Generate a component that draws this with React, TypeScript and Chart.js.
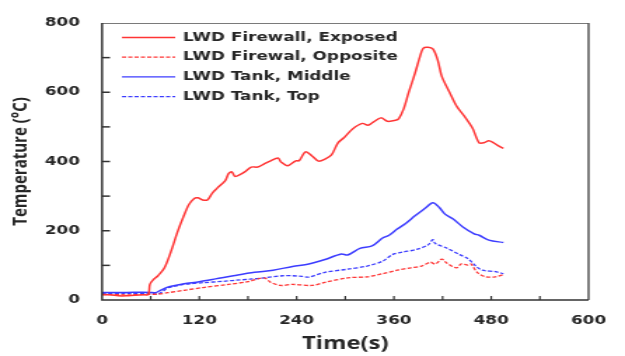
import React, { useEffect, useRef } from "react";
import { Chart, registerables } from "chart.js";

Chart.register(...registerables);

// ---- data ----
const seriesLabels = [
  "LWD Firewall, Exposed",
  "LWD Firewal, Opposite",
  "LWD Tank, Middle",
  "LWD Tank, Top",
];

const exposedTime = [0, 10, 20, 30, 40, 50, 57, 59, 63, 69, 77, 85, 93, 101, 107, 113, 118, 124, 130, 136, 142, 152, 156, 160, 164, 170, 176, 184, 192, 200, 208, 217, 221, 229, 239, 243, 251, 259, 267, 275, 283, 291, 299, 309, 321, 328, 334, 344, 352, 362, 366, 372, 378, 386, 392, 396, 402, 408, 414, 419, 429, 437, 449, 457, 465, 471, 477, 483, 489, 495];
const exposedTemp = [15, 15, 12, 12, 14, 15, 16, 45, 58, 70, 93, 140, 196, 244, 275, 292, 295, 289, 289, 309, 323, 345, 365, 370, 357, 362, 370, 384, 384, 393, 402, 410, 398, 388, 402, 402, 428, 416, 401, 407, 419, 454, 470, 494, 510, 505, 513, 526, 516, 519, 524, 552, 598, 655, 702, 727, 730, 725, 693, 646, 598, 561, 524, 496, 454, 454, 460, 454, 445, 438];

const oppositeTime = [0, 30, 60, 70, 81, 101, 125, 156, 180, 200, 208, 220, 235, 259, 275, 303, 327, 346, 366, 381, 394, 405, 411, 419, 425, 437, 443, 451, 455, 463, 473, 485, 495];
const oppositeTemp = [16, 15, 16, 17, 21, 28, 36, 45, 53, 64, 51, 42, 45, 42, 51, 64, 67, 76, 87, 93, 98, 109, 104, 118, 107, 93, 104, 101, 104, 79, 67, 67, 73];

const middleTime = [0, 30, 60, 66, 72, 81, 90, 101, 120, 140, 164, 188, 211, 235, 255, 275, 295, 303, 318, 333, 346, 354, 364, 374, 386, 398, 408, 416, 423, 433, 445, 459, 465, 477, 495];
const middleTemp = [22, 22, 22, 21, 28, 37, 42, 47, 53, 61, 71, 80, 86, 97, 104, 117, 133, 130, 149, 156, 179, 187, 205, 220, 243, 264, 281, 267, 248, 234, 211, 191, 187, 173, 166];

const topTime = [0, 30, 60, 64, 69, 75, 81, 90, 101, 125, 150, 164, 182, 200, 223, 235, 247, 255, 275, 303, 327, 346, 358, 370, 388, 402, 408, 411, 425, 441, 451, 461, 469, 485, 495];
const topTemp = [19, 19, 19, 18, 17, 25, 35, 40, 45, 50, 54, 57, 60, 64, 70, 70, 68, 66, 80, 89, 98, 112, 131, 138, 146, 159, 174, 163, 150, 131, 120, 98, 86, 82, 76];

const xMin = 0, xMax = 600, xStep = 60, xLabelEvery = 120;
const yMin = 0, yMax = 800, yStep = 100, yLabelEvery = 200;
const xTitle = "Time(s)";
const yTitle = "Temperature (°C)";

// ---- style ----
const W = 446; // internal width, stretched horizontally to 625
const H = 356;
const RED = "#ff3434";
const BLUE = "#3c3cff";
const TEXT = "#262626";

const pts = (t: number[], v: number[]) => t.map((x, i) => ({ x, y: v[i] }));

export default function App() {
  const ref = useRef<HTMLCanvasElement>(null);

  useEffect(() => {
    const canvas = ref.current;
    if (!canvas) return;

    const framePlugin = {
      id: "frame",
      afterDraw(chart: any) {
        const { ctx, chartArea, scales } = chart;
        const { left, top, right, bottom } = chartArea;
        const xs = scales.x, ys = scales.y;
        ctx.save();
        // top border
        ctx.strokeStyle = "#7a7a7a";
        ctx.lineWidth = 1;
        ctx.beginPath();
        ctx.moveTo(left, top + 0.5);
        ctx.lineTo(right, top + 0.5);
        ctx.stroke();
        // right border
        ctx.strokeStyle = "#555";
        ctx.lineWidth = 1.5;
        ctx.beginPath();
        ctx.moveTo(right, top);
        ctx.lineTo(right, bottom);
        ctx.stroke();
        // axes
        ctx.strokeStyle = "#333";
        ctx.lineWidth = 1.5;
        ctx.beginPath();
        ctx.moveTo(left, top);
        ctx.lineTo(left, bottom);
        ctx.lineTo(right, bottom);
        ctx.stroke();
        // inward tick marks
        ctx.lineWidth = 1.2;
        xs.ticks.forEach((t: any) => {
          if (t.value <= xMin || t.value >= xMax) return;
          const px = xs.getPixelForValue(t.value);
          ctx.beginPath();
          ctx.moveTo(px, bottom);
          ctx.lineTo(px, bottom - 4);
          ctx.stroke();
        });
        ctx.lineWidth = 1.5;
        ys.ticks.forEach((t: any) => {
          if (t.value <= yMin || t.value >= yMax) return;
          const py = ys.getPixelForValue(t.value);
          ctx.beginPath();
          ctx.moveTo(left, py);
          ctx.lineTo(left + 5.7, py);
          ctx.stroke();
        });
        // legend
        ctx.font = "bold 12px 'DejaVu Sans'";
        ctx.textBaseline = "middle";
        ctx.textAlign = "left";
        chart.data.datasets.forEach((ds: any, i: number) => {
          const yy = top + 14.5 + i * 19.7;
          ctx.strokeStyle = ds.borderColor;
          ctx.lineWidth = 1.3;
          ctx.setLineDash(ds.borderDash || []);
          ctx.beginPath();
          ctx.moveTo(left + 14.2, yy);
          ctx.lineTo(left + 52.2, yy);
          ctx.stroke();
          ctx.setLineDash([]);
          ctx.fillStyle = TEXT;
          ctx.fillText(ds.label, left + 57.8, yy);
        });
        ctx.restore();
      },
    };

    const chart = new Chart(canvas, {
      type: "line",
      data: {
        datasets: [
          { label: seriesLabels[0], data: pts(exposedTime, exposedTemp), borderColor: RED, borderWidth: 1.5, borderDash: [] },
          { label: seriesLabels[1], data: pts(oppositeTime, oppositeTemp), borderColor: RED, borderWidth: 1.3, borderDash: [3, 1.5] },
          { label: seriesLabels[2], data: pts(middleTime, middleTemp), borderColor: BLUE, borderWidth: 1.5, borderDash: [] },
          { label: seriesLabels[3], data: pts(topTime, topTemp), borderColor: BLUE, borderWidth: 1.3, borderDash: [3, 1.5] },
        ] as any,
      },
      options: {
        animation: false,
        responsive: false,
        devicePixelRatio: 1,
        layout: { padding: { left: 0, top: 15, right: 12.8, bottom: 0 } },
        elements: {
          point: { radius: 0 },
          line: { tension: 0.3, fill: false },
        },
        plugins: {
          legend: { display: false },
          tooltip: { enabled: false },
        },
        scales: {
          x: {
            type: "linear",
            min: xMin,
            max: xMax,
            grid: { display: false, drawTicks: false },
            border: { display: false },
            ticks: {
              stepSize: xStep,
              autoSkip: false,
              maxRotation: 0,
              padding: 13.5,
              color: TEXT,
              font: { family: "'DejaVu Sans'", size: 12, weight: "bold" },
              callback: (v: any) => (Number(v) % xLabelEvery === 0 ? String(v) : ""),
            },
            title: {
              display: true,
              text: xTitle,
              color: TEXT,
              font: { family: "'Open Sans'", size: 17, weight: "bold" },
              padding: { top: 0, bottom: 2 },
            },
            afterFit: (s: any) => {
              s.height = 56;
            },
          },
          y: {
            type: "linear",
            min: yMin,
            max: yMax,
            grid: { display: false, drawTicks: false },
            border: { display: false },
            ticks: {
              stepSize: yStep,
              autoSkip: false,
              padding: 15.8,
              color: TEXT,
              font: { family: "'DejaVu Sans'", size: 12, weight: "bold" },
              callback: (v: any) => (Number(v) % yLabelEvery === 0 ? String(v) : ""),
            },
            title: {
              display: true,
              text: yTitle,
              color: TEXT,
              font: { family: "'Open Sans'", size: 15, weight: "bold" },
              padding: { top: 6, bottom: 0 },
            },
            afterFit: (s: any) => {
              s.width = 72.8;
            },
          },
        },
      } as any,
      plugins: [framePlugin],
    });

    return () => chart.destroy();
  }, []);

  return (
    <div style={{ position: "fixed", left: 0, top: 0, width: 625, height: 356, overflow: "hidden", background: "#fff" }}>
      <canvas ref={ref} width={W} height={H} style={{ width: "625px", height: "356px", display: "block" }} />
    </div>
  );
}
